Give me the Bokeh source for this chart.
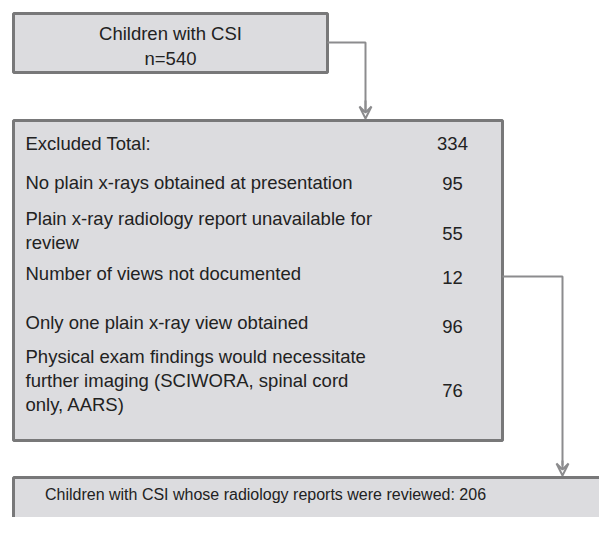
from bokeh.plotting import figure
from bokeh.models import Range1d, Arrow, VeeHead, ColumnDataSource
from bokeh.core.properties import value
from bokeh.embed import file_html
from bokeh.resources import INLINE

# ---- data ----
top_title = ["Children with CSI", "n=540"]
excl_labels = [
    "Excluded Total:",
    "No plain x-rays obtained at presentation",
    "Plain x-ray radiology report unavailable for\nreview",
    "Number of views not documented",
    "Only one plain x-ray view obtained",
    "Physical exam findings would necessitate\nfurther imaging (SCIWORA, spinal cord\nonly, AARS)",
]
excl_counts = [334, 95, 55, 12, 96, 76]
final_label = "Children with CSI whose radiology reports were reviewed: 206"

# ---- layout (screenshot pixel coordinates) ----
W, H = 599, 517
p = figure(width=W, height=H, output_backend="svg", toolbar_location=None,
           x_range=Range1d(0, W), y_range=Range1d(H, 0),
           min_border=0)
p.axis.visible = False
p.grid.visible = False
p.outline_line_color = None
p.background_fill_color = "white"

FILL = "#dcdcdf"
BORDER = "#787879"
LINE = "#8c8c8e"
TXT = "#222222"
FONT = value("Liberation Sans")
FS = "18.5px"

# boxes
boxes = ColumnDataSource(dict(left=[13, 13, 13], right=[327, 502, 640],
                              top=[13, 120, 477], bottom=[72, 440, 560]))
p.quad(left="left", right="right", top="top", bottom="bottom", source=boxes,
       fill_color=FILL, line_color=BORDER, line_width=3)

# connectors
p.line([327, 365, 365], [42, 42, 110], line_color=LINE, line_width=2)
p.add_layout(Arrow(end=VeeHead(size=12, line_color=LINE, line_width=2, fill_alpha=0),
                   x_start=365, y_start=100, x_end=365, y_end=118,
                   line_color=LINE, line_width=2))
p.line([502, 562, 562], [276, 276, 465], line_color=LINE, line_width=2)
p.add_layout(Arrow(end=VeeHead(size=12, line_color=LINE, line_width=2, fill_alpha=0),
                   x_start=562, y_start=460, x_end=562, y_end=475,
                   line_color=LINE, line_width=2))

# top box text
p.text(x=[170, 170], y=[33, 58], text=top_title, text_align="center",
       text_baseline="middle", text_font=FONT, text_font_size=FS,
       text_color=TXT)

# excluded rows
row_y = [143, 182, 230, 273, 322, 380]
label_src = ColumnDataSource(dict(x=[25] * len(excl_labels), y=row_y, t=excl_labels))
p.text(x="x", y="y", text="t", source=label_src, text_align="left",
       text_baseline="middle", text_font=FONT, text_font_size=FS,
       text_color=TXT, text_line_height=1.12)
count_y = [143, 183, 233, 277, 326, 390]
cnt_src = ColumnDataSource(dict(x=[452] * len(excl_counts), y=count_y,
                                t=[str(c) for c in excl_counts]))
p.text(x="x", y="y", text="t", source=cnt_src, text_align="center",
       text_baseline="middle", text_font=FONT, text_font_size=FS,
       text_color=TXT)

# final box text
p.text(x=[265], y=[494], text=[final_label], text_align="center",
       text_baseline="middle", text_font=FONT, text_font_size="16px",
       text_color=TXT)

open("out.html", "w").write(file_html(p, INLINE))
